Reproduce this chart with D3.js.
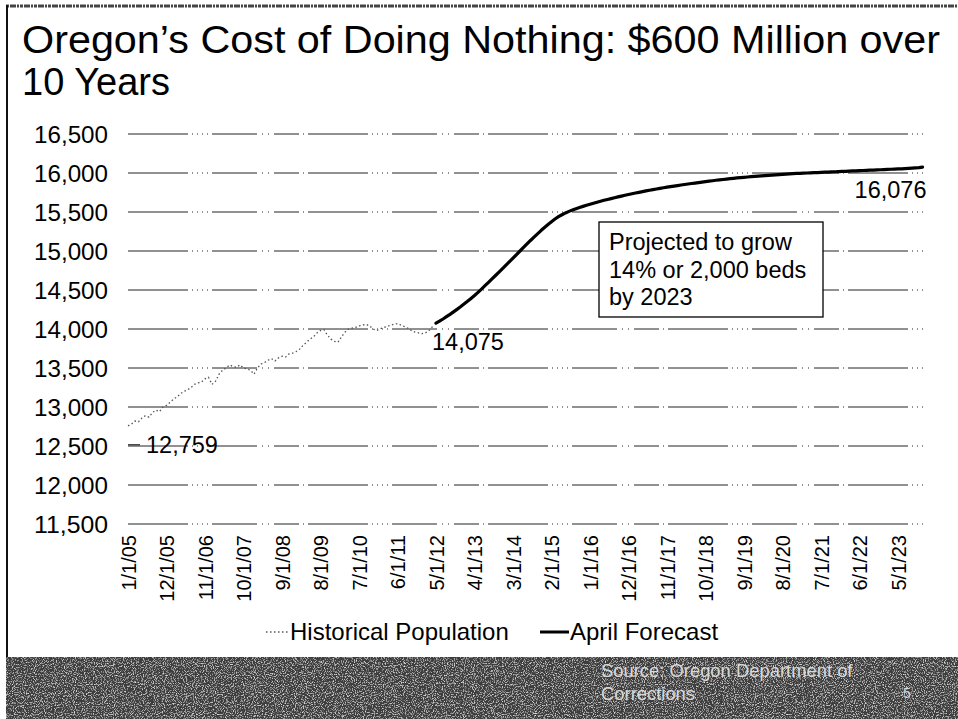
<!DOCTYPE html>
<html>
<head>
<meta charset="utf-8">
<script src="https://cdn.jsdelivr.net/npm/d3@7"></script>
<style>
  html, body { margin: 0; padding: 0; background: #fff; }
  svg { display: block; font-family: "Liberation Sans", Arial, sans-serif; }
</style>
</head>
<body>
<svg id="chart" width="958" height="719"></svg>
<script>
// Oregon prison population: monthly history and April forecast
const titleLines = ["Oregon\u2019s Cost of Doing Nothing: $600 Million over", "10 Years"];

// Monthly history, 1/1/05 through 4/1/12
const historical = [
  12759,12780,12820,12810,12860,12890,12870,12930,12960,12940,
  13000,13020,13060,13100,13130,13170,13200,13220,13250,13290,
  13310,13320,13360,13380,13290,13330,13420,13470,13500,13540,
  13520,13510,13540,13500,13490,13470,13420,13500,13550,13570,
  13600,13620,13590,13630,13650,13640,13680,13690,13710,13740,
  13790,13830,13870,13900,13950,13980,13990,13920,13870,13840,
  13830,13900,13960,14000,14010,14020,14040,14050,14060,14040,
  14000,13980,14000,14020,14030,14050,14060,14070,14050,14030,
  14010,13980,13960,13950,13940,13950,13980,14030
];

// Monthly forecast, 5/1/12 through 12/1/23
const forecast = [
  14075,14100,14128,14158,14188,14220,14252,14285,14320,14355,
  14392,14430,14470,14512,14555,14598,14642,14686,14730,14775,
  14820,14865,14910,14955,15000,15045,15090,15135,15178,15220,
  15262,15302,15340,15376,15410,15440,15465,15488,15508,15526,
  15543,15558,15572,15586,15600,15613,15626,15638,15650,15661,
  15672,15683,15694,15704,15714,15724,15734,15743,15752,15761,
  15770,15779,15787,15795,15803,15811,15818,15825,15832,15839,
  15846,15853,15859,15865,15871,15877,15883,15889,15895,15901,
  15907,15912,15917,15922,15927,15932,15937,15941,15945,15949,
  15953,15957,15961,15964,15967,15970,15973,15976,15979,15982,
  15985,15988,15991,15994,15996,15998,16000,16002,16004,16006,
  16008,16010,16012,16014,16016,16018,16020,16022,16024,16026,
  16028,16030,16032,16034,16036,16038,16040,16042,16044,16046,
  16048,16050,16052,16054,16057,16060,16063,16066,16069,16076
];

const xTickLabels = ["1/1/05","12/1/05","11/1/06","10/1/07","9/1/08","8/1/09","7/1/10",
  "6/1/11","5/1/12","4/1/13","3/1/14","2/1/15","1/1/16","12/1/16","11/1/17","10/1/18",
  "9/1/19","8/1/20","7/1/21","6/1/22","5/1/23"];
const yTicks = [11500,12000,12500,13000,13500,14000,14500,15000,15500,16000,16500];
const seriesNames = ["Historical Population", "April Forecast"];
const calloutLines = ["Projected to grow", "14% or 2,000 beds", "by 2023"];
const sourceLines = ["Source: Oregon Department of", "Corrections"];

// Month categories from January 2005 to December 2023
const fmtMonth = d3.timeFormat("%-m/%-d/%y");
const months = d3.timeMonth.range(new Date(2005, 0, 1), new Date(2024, 0, 1)).map(fmtMonth);

const histData = historical.map((v, i) => ({ m: months[i], v }));
const foreData = forecast.map((v, i) => ({ m: months[historical.length + i], v }));

const svg = d3.select("#chart");
const fmtNum = d3.format(",");

const plot = { left: 128, right: 922.5, top: 134, bottom: 524 };
const x = d3.scalePoint().domain(months).range([plot.left, plot.right]);
const y = d3.scaleLinear().domain([11500, 16500]).range([plot.bottom, plot.top]);

// Slide frame: top rule and left edge
svg.append("rect").attr("x", 0).attr("y", 0).attr("width", 958).attr("height", 719).attr("fill", "#fff");
svg.append("line").attr("x1", 6).attr("x2", 958).attr("y1", 6).attr("y2", 6)
  .attr("stroke", "#444").attr("stroke-width", 3).attr("stroke-dasharray", "3,1,6,1,2,1");
svg.append("line").attr("x1", 7).attr("x2", 7).attr("y1", 5).attr("y2", 719)
  .attr("stroke", "#111").attr("stroke-width", 2);

// Title
titleLines.forEach((t, i) => {
  const tt = svg.append("text").attr("x", 22).attr("y", 53 + i * 42)
    .attr("font-size", 38).attr("fill", "#000").text(t);
  if (i === 0) tt.attr("textLength", 918).attr("lengthAdjust", "spacingAndGlyphs");
});

// Horizontal gridlines
const grid = svg.append("g");
grid.selectAll("line").data(yTicks).join("line")
  .attr("x1", plot.left).attr("x2", plot.right + 1)
  .attr("y1", d => y(d)).attr("y2", d => y(d))
  .attr("stroke", "#222").attr("stroke-width", 1)
  .attr("stroke-dasharray", "60,4,1,4,1,4,1,4,1,4,45,5,1,5,1,5,25,4,1,4");

// Y axis labels
const yAxis = d3.axisLeft(y).tickValues(yTicks).tickFormat(fmtNum).tickSize(0).tickPadding(0);
const yg = svg.append("g").attr("transform", `translate(108,0)`).call(yAxis);
yg.select(".domain").remove();
yg.selectAll("text").attr("font-size", 23).attr("fill", "#000")
  .attr("font-family", "Liberation Sans, Arial, sans-serif").attr("dy", "0.36em")
  .attr("textLength", 74).attr("lengthAdjust", "spacingAndGlyphs");

// X axis labels (rotated)
const xAxis = d3.axisBottom(x).tickValues(xTickLabels).tickSize(0).tickPadding(0);
const xg = svg.append("g").attr("transform", `translate(0,${plot.bottom + 11})`).call(xAxis);
xg.select(".domain").remove();
xg.selectAll("text")
  .attr("font-size", 20).attr("fill", "#000")
  .attr("font-family", "Liberation Sans, Arial, sans-serif")
  .attr("text-anchor", "end").attr("dy", "0.36em")
  .attr("transform", "rotate(-90)").attr("x", 0).attr("y", 0);

// Series lines
const line = d3.line().x(d => x(d.m)).y(d => y(d.v));
svg.append("path").datum(histData).attr("d", line)
  .attr("fill", "none").attr("stroke", "#555").attr("stroke-width", 1.3)
  .attr("stroke-dasharray", "1.5,2.5");
svg.append("path").datum(foreData).attr("d", line)
  .attr("fill", "none").attr("stroke", "#000").attr("stroke-width", 3.2)
  .attr("stroke-linejoin", "round").attr("stroke-linecap", "round");

// Data labels
const first = histData[0], fStart = foreData[0], fEnd = foreData[foreData.length - 1];
svg.append("line").attr("x1", x(first.m)).attr("x2", x(first.m) + 12)
  .attr("y1", y(first.v) + 19).attr("y2", y(first.v) + 19).attr("stroke", "#000").attr("stroke-width", 1);
svg.append("text").attr("x", x(first.m) + 18).attr("y", y(first.v) + 27)
  .attr("font-size", 23.5).text(fmtNum(first.v));
svg.append("text").attr("x", x(fStart.m) - 4).attr("y", y(fStart.v) + 27)
  .attr("font-size", 23.5).text(fmtNum(fStart.v));
svg.append("text").attr("x", x(fEnd.m) + 4).attr("y", y(fEnd.v) + 31)
  .attr("text-anchor", "end").attr("font-size", 23.5).text(fmtNum(fEnd.v));

// Callout box
const cb = { x: 599, y: 222, w: 224, h: 95 };
svg.append("rect").attr("x", cb.x).attr("y", cb.y).attr("width", cb.w).attr("height", cb.h)
  .attr("fill", "#fff").attr("stroke", "#000").attr("stroke-width", 1.3);
calloutLines.forEach((t, i) => {
  svg.append("text").attr("x", cb.x + 10).attr("y", cb.y + 28 + i * 27.5)
    .attr("font-size", 23.5).text(t);
});

// Legend
const lg = svg.append("g");
lg.append("line").attr("x1", 266).attr("x2", 289).attr("y1", 632).attr("y2", 632)
  .attr("stroke", "#555").attr("stroke-width", 1.3).attr("stroke-dasharray", "1.5,2.5");
lg.append("text").attr("x", 290).attr("y", 640).attr("font-size", 24).text(seriesNames[0]);
lg.append("line").attr("x1", 540).attr("x2", 569).attr("y1", 632).attr("y2", 632)
  .attr("stroke", "#000").attr("stroke-width", 3);
lg.append("text").attr("x", 570).attr("y", 640).attr("font-size", 24).text(seriesNames[1]);

// Footer band with grainy texture
const defs = svg.append("defs");
const f = defs.append("filter").attr("id", "grain").attr("x", 0).attr("y", 0).attr("width", 1).attr("height", 1);
f.append("feTurbulence").attr("type", "fractalNoise").attr("baseFrequency", 0.9).attr("numOctaves", 2).attr("seed", 3).attr("result", "n");
f.append("feColorMatrix").attr("in", "n").attr("type", "matrix")
  .attr("values", "0 0 0 0 1  0 0 0 0 1  0 0 0 0 1  0 0 0 2.2 -1.1").attr("result", "w");
f.append("feComposite").attr("in", "w").attr("in2", "SourceGraphic").attr("operator", "atop");

svg.append("rect").attr("x", 6).attr("y", 657).attr("width", 952).attr("height", 62)
  .attr("fill", "#3e3e3e").attr("filter", "url(#grain)");
sourceLines.forEach((t, i) => {
  svg.append("text").attr("x", 601).attr("y", 677 + i * 23)
    .attr("font-size", 18.4).attr("fill", "#d8d8d8").text(t);
});
svg.append("text").attr("x", 903).attr("y", 698).attr("font-size", 14).attr("fill", "#d8d8d8").text("5");
</script>
</body>
</html>
